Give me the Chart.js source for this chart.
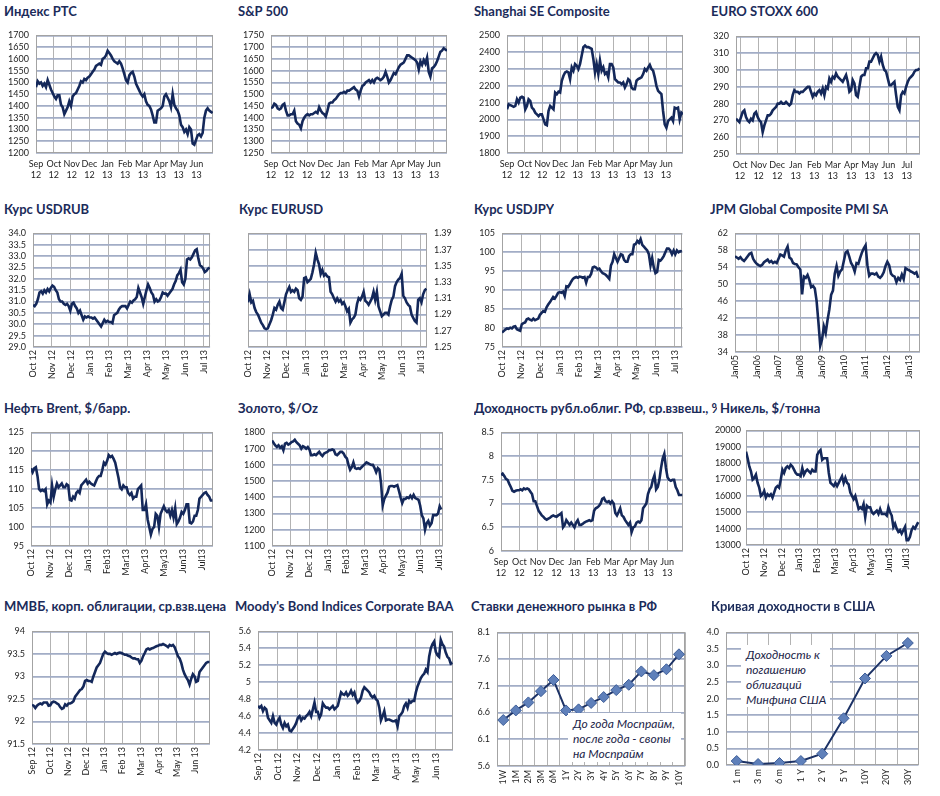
<!DOCTYPE html>
<html><head><meta charset="utf-8">
<script src="https://cdn.jsdelivr.net/npm/chart.js@4.4.0/dist/chart.umd.min.js"></script>
<style>
body{margin:0;background:#fff;}
#wrap{position:relative;width:940px;height:796px;overflow:hidden;background:#fff;font-family:Lato,'Open Sans',sans-serif;}
.t{position:absolute;font-weight:bold;font-size:13px;color:#1b2b5a;white-space:nowrap;line-height:16px;overflow:hidden;}
canvas{position:absolute;}
.note{position:absolute;background:#fff;font-style:italic;font-size:12px;color:#1b2448;line-height:15px;z-index:5;white-space:nowrap;}
</style></head><body><div id="wrap"></div>
<script>
// ---------------- DATA ----------------
const monthsSepJun = ['Sep 12','Oct 12','Nov 12','Dec 12','Jan 13','Feb 13','Mar 13','Apr 13','May 13','Jun 13'];
const monthsOctJul = ['Oct 12','Nov 12','Dec 12','Jan 13','Feb 13','Mar 13','Apr 13','May 13','Jun 13','Jul 13'];
const monthsOctJulB = ['Oct 12','Nov 12','Dec 12','Jan13','Feb13','Mar13','Apr13','May13','Jun13','Jul13'];
const yearsPmi = ['Jan05','Jan06','Jan07','Jan08','Jan09','Jan10','Jan11','Jan12','Jan13'];

const rtsValues = [1480,1505,1495,1500,1485,1495,1480,1510,1490,1470,1455,1440,1430,1445,1445,1405,1395,1365,1380,1395,1420,1400,1440,1450,1455,1470,1485,1505,1500,1515,1510,1520,1525,1535,1545,1555,1570,1575,1580,1575,1600,1605,1615,1635,1625,1615,1600,1590,1585,1580,1590,1580,1560,1535,1510,1500,1530,1540,1545,1525,1495,1480,1465,1450,1440,1450,1420,1405,1400,1385,1360,1330,1330,1380,1385,1390,1400,1440,1450,1435,1420,1395,1450,1405,1390,1380,1360,1320,1310,1290,1300,1280,1310,1300,1240,1235,1255,1275,1280,1270,1285,1350,1380,1390,1380,1375,1370];
const spxValues = [1440,1445,1460,1455,1440,1435,1440,1455,1460,1430,1410,1410,1415,1415,1430,1385,1375,1370,1355,1385,1400,1410,1415,1410,1415,1415,1420,1425,1420,1445,1430,1420,1415,1405,1430,1460,1465,1465,1475,1480,1490,1500,1505,1505,1510,1505,1515,1515,1520,1525,1530,1520,1515,1490,1515,1535,1540,1550,1555,1560,1550,1560,1550,1565,1570,1565,1560,1565,1575,1595,1575,1550,1560,1575,1590,1585,1600,1615,1625,1630,1635,1650,1665,1665,1660,1655,1650,1645,1635,1605,1640,1625,1645,1630,1655,1595,1575,1610,1615,1625,1640,1660,1680,1685,1695,1690,1685];
const shanghaiValues = [2060,2090,2085,2080,2075,2080,2120,2100,2130,2135,2130,2060,2080,2120,2110,2070,2060,2040,2030,2020,2030,2030,2000,1970,1965,2050,2080,2070,2060,2160,2150,2165,2160,2230,2260,2280,2285,2280,2240,2310,2290,2330,2320,2300,2330,2380,2430,2440,2430,2430,2425,2420,2360,2280,2330,2270,2350,2290,2310,2270,2280,2250,2330,2330,2310,2240,2230,2220,2220,2210,2220,2190,2210,2240,2230,2190,2180,2180,2230,2240,2245,2250,2270,2300,2290,2310,2325,2300,2290,2250,2200,2170,2160,2150,2050,1970,1950,1990,2000,2010,1990,2070,2065,2070,2000,2040,2030];
const stoxxValues = [271,270,269,272,275,276,272,270,269,271,270,274,275,272,270,269,263,267,270,273,273,274,276,277,278,280,280,281,280,280,281,280,279,280,285,288,287,287,286,287,287,288,289,290,290,287,284,286,285,287,288,286,289,285,290,289,295,293,296,295,298,296,295,294,293,295,297,293,287,288,294,292,285,284,290,296,297,297,301,301,305,305,307,309,310,309,305,308,303,300,299,295,291,291,292,293,285,278,276,285,287,286,290,293,295,296,297,299,300,300,301];
const usdrubValues = [30.85,30.8,30.9,31.1,31.4,31.45,31.35,31.5,31.4,31.55,31.45,31.6,31.7,31.65,31.5,31.4,31.1,31.0,31.0,30.9,30.85,30.9,30.8,30.6,30.9,30.95,30.8,30.7,30.5,30.6,30.4,30.2,30.35,30.3,30.35,30.3,30.3,30.25,30.3,30.2,30.1,30.0,29.9,30.05,30.2,30.1,30.15,30.1,30.1,30.05,30.4,30.45,30.5,30.65,30.75,30.8,30.8,30.8,30.7,30.85,31.0,30.95,31.05,31.1,31.2,31.6,31.4,31.2,30.9,31.2,31.5,31.75,31.6,31.4,31.3,31.0,31.1,31.0,31.05,31.2,31.4,31.35,31.35,31.25,31.35,31.45,31.55,31.75,31.9,32.15,32.25,32.4,31.85,31.75,32.0,32.85,32.9,32.85,32.95,33.1,33.25,33.3,32.9,32.6,32.55,32.45,32.3,32.35,32.45,32.5];
const eurusdValues = [1.305,1.315,1.305,1.307,1.298,1.293,1.290,1.285,1.280,1.277,1.273,1.272,1.273,1.278,1.283,1.290,1.298,1.296,1.302,1.306,1.298,1.296,1.305,1.315,1.320,1.324,1.318,1.320,1.318,1.322,1.320,1.310,1.308,1.312,1.335,1.336,1.330,1.332,1.334,1.342,1.352,1.366,1.358,1.352,1.340,1.345,1.338,1.340,1.337,1.336,1.318,1.315,1.310,1.306,1.310,1.306,1.308,1.303,1.305,1.300,1.294,1.297,1.280,1.284,1.286,1.290,1.303,1.310,1.308,1.312,1.318,1.307,1.305,1.302,1.306,1.310,1.318,1.308,1.318,1.300,1.294,1.288,1.290,1.292,1.292,1.290,1.300,1.308,1.312,1.325,1.330,1.333,1.335,1.340,1.313,1.310,1.305,1.302,1.300,1.290,1.286,1.282,1.280,1.308,1.310,1.305,1.315,1.320,1.322];
const usdjpyValues = [78.8,79.2,79.6,79.9,79.8,80.1,79.9,80.4,80.5,79.7,79.5,79.3,81.0,81.3,81.5,82.3,82.5,82.2,82.0,82.5,82.1,82.3,82.5,83.5,84.0,84.5,84.3,85.5,86.2,86.8,87.5,88.2,87.8,88.5,89.3,89.5,89.3,89.6,88.5,91.0,90.8,91.5,92.3,93.0,93.3,93.5,93.3,93.6,93.5,93.3,93.5,92.0,93.5,93.5,94.3,96.0,96.2,96.0,95.5,95.7,95.0,94.5,94.3,94.0,93.5,93.0,96.5,97.5,99.5,98.5,97.5,98.5,99.5,99.3,98.0,97.5,97.5,99.0,99.5,99.5,102.0,102.2,103.0,102.5,103.5,102.0,101.5,101.0,100.5,99.5,96.5,98.5,96.0,94.5,94.8,98.0,97.8,98.3,99.0,100.0,101.0,101.0,100.5,99.5,100.5,99.5,100.5,100.0,100.3,100.2];
const pmiValues = [56.6,56.3,56.0,56.4,55.8,55.5,56.0,56.6,57.2,57.4,56.0,55.3,54.8,54.5,54.3,54.6,55.2,55.5,55.8,55.2,55.5,55.0,55.3,55.0,56.0,57.0,56.8,56.5,58.0,58.9,56.3,56.0,55.0,54.8,54.7,54.0,53.5,47.6,51.8,51.5,52.2,51.0,49.3,49.6,49.0,46.0,41.0,35.5,37.0,40.0,38.5,41.5,44.0,47.5,48.5,52.5,54.3,52.0,53.0,53.5,55.5,57.5,57.8,56.5,55.0,54.3,53.0,55.0,54.8,56.2,57.5,58.5,59.2,54.5,52.0,52.5,52.5,52.3,52.6,51.8,51.5,52.0,52.8,54.3,55.3,54.5,52.5,52.0,51.8,50.5,51.5,51.0,52.3,51.2,53.8,53.5,53.3,53.0,52.8,52.5,52.8,51.5];
const brentValues = [115.5,114.5,115.5,115.8,113.5,110,109.5,109.8,109.5,110,106,107,106.5,111,108,110,111.5,110.5,111,111.5,110.5,110.5,111.3,111,107.2,107,108,107.5,109,109.5,109,111,111.5,112,112.5,111.5,112,111.5,111.2,111,112,113,113.5,113.5,115,117,116.5,117.5,119,118.5,118.8,118,117,115,113,110.5,110,111,110.5,110.5,109,108.5,109,107.5,108,108,110,110.5,111,104.5,104.5,106,102,100,98,99.5,100,103.5,103,100,103.5,104.5,105.5,104.5,104,104.5,103,104.5,102.5,105,100.8,101.5,102.5,104,103.5,104.5,106,106,101.2,101,101.5,103,103,104.5,107.5,108,108.5,109,109.2,108.5,108,107,107];
const goldValues = [1750,1735,1720,1710,1720,1705,1715,1690,1730,1735,1725,1730,1740,1745,1755,1740,1730,1720,1700,1715,1710,1700,1710,1695,1660,1660,1665,1660,1670,1680,1665,1655,1670,1675,1680,1690,1690,1695,1690,1665,1660,1670,1680,1680,1670,1650,1640,1600,1570,1585,1615,1580,1575,1580,1575,1585,1595,1605,1615,1610,1605,1600,1600,1580,1555,1580,1570,1485,1350,1390,1410,1430,1465,1470,1470,1465,1470,1475,1440,1400,1365,1390,1390,1400,1395,1410,1395,1415,1395,1390,1385,1350,1290,1270,1200,1240,1255,1225,1240,1290,1290,1290,1300,1345,1325];
const ofzValues = [7.6,7.63,7.58,7.52,7.5,7.42,7.35,7.27,7.25,7.27,7.28,7.28,7.3,7.28,7.32,7.3,7.32,7.3,7.25,7.2,7.05,7.05,6.95,6.85,6.8,6.75,6.72,6.68,6.66,6.68,6.7,6.73,6.75,6.73,6.72,6.75,6.77,6.8,6.5,6.55,6.65,6.6,6.55,6.6,6.55,6.5,6.6,6.65,6.55,6.55,6.57,6.6,6.62,6.63,6.65,6.63,6.65,6.85,6.9,6.92,6.95,7.0,7.1,7.12,7.05,7.03,7.05,7.0,7.05,7.0,6.8,6.75,6.82,6.9,6.75,6.72,6.65,6.6,6.55,6.6,6.4,6.5,6.52,6.6,6.62,6.6,6.65,6.9,6.95,7.0,7.2,7.3,7.35,7.5,7.6,7.3,7.35,7.5,7.75,7.95,8.05,7.75,7.55,7.5,7.48,7.5,7.5,7.35,7.28,7.18,7.18,7.18];
const nickelValues = [18700,18300,17800,17500,17000,17100,17300,16800,16500,16000,16100,16300,15900,16100,16000,16100,15900,16200,16500,16600,16500,17000,17600,17400,17700,17800,17700,17900,17800,17600,17400,17300,17300,17200,17700,17300,17500,17600,17500,17400,17600,17500,17500,18500,18700,18800,18200,18300,18300,18300,17400,16800,16700,16600,16800,16600,16800,17000,17200,16800,17100,16800,16700,16200,16000,15800,16000,15600,15200,15300,15200,15500,14700,15400,15300,15300,15000,14900,15000,15100,14900,15200,14900,14900,14900,14800,15300,15000,14800,14100,14300,14000,13800,13900,13700,13900,14100,13300,13300,13500,13900,14100,14000,14200,14400];
const micexBondValues = [92.37,92.35,92.3,92.35,92.38,92.4,92.38,92.42,92.42,92.42,92.35,92.36,92.42,92.44,92.43,92.4,92.38,92.32,92.28,92.3,92.38,92.35,92.4,92.4,92.42,92.45,92.55,92.6,92.65,92.7,92.72,92.78,92.9,92.92,92.9,92.9,92.88,93.0,93.1,93.2,93.25,93.3,93.4,93.5,93.55,93.52,93.5,93.5,93.48,93.5,93.52,93.5,93.52,93.53,93.52,93.5,93.48,93.48,93.46,93.45,93.42,93.4,93.4,93.38,93.38,93.3,93.35,93.45,93.52,93.6,93.62,93.6,93.62,93.63,93.65,93.67,93.68,93.7,93.7,93.72,93.7,93.68,93.65,93.7,93.68,93.7,93.65,93.55,93.45,93.4,93.3,93.15,93.05,92.98,92.92,92.82,92.95,93.05,93.0,92.88,92.9,93.1,93.15,93.2,93.25,93.3,93.32,93.32];
const baaValues = [4.72,4.7,4.72,4.66,4.7,4.68,4.58,4.55,4.52,4.6,4.52,4.5,4.55,4.58,4.5,4.46,4.52,4.48,4.5,4.43,4.42,4.45,4.48,4.52,4.58,4.6,4.55,4.58,4.57,4.6,4.62,4.65,4.6,4.68,4.76,4.65,4.65,4.58,4.62,4.75,4.72,4.7,4.7,4.68,4.7,4.72,4.68,4.7,4.72,4.8,4.88,4.86,4.85,4.88,4.84,4.86,4.9,4.85,4.88,4.8,4.76,4.78,4.82,4.9,4.94,4.92,4.9,4.88,4.84,4.82,4.84,4.8,4.78,4.7,4.55,4.6,4.66,4.55,4.56,4.56,4.55,4.54,4.54,4.55,4.48,4.6,4.62,4.65,4.72,4.75,4.7,4.78,4.76,4.78,4.78,4.88,4.95,5.0,5.05,5.08,5.1,5.15,5.12,5.3,5.4,5.45,5.48,5.36,5.32,5.3,5.5,5.45,5.42,5.35,5.3,5.28,5.22,5.23];

const ruTenors = ['1W','1M','2M','3M','6M','1Y','2Y','3Y','4Y','5Y','6Y','7Y','8Y','9Y','10Y'];
const ruRates = [6.46,6.64,6.79,7.0,7.21,6.64,6.66,6.78,6.89,7.02,7.12,7.37,7.30,7.41,7.69];
const usTenors = ['1 m','3 m','6 m','1 Y','2 Y','5 Y','10Y','20Y','30Y'];
const usYields = [0.12,0.03,0.06,0.12,0.34,1.41,2.61,3.29,3.68];

// ---------------- STYLE / LAYOUT ----------------
const NAVY = '#14285a', GRID_Y = '#a2adc6', GRID_X = '#b3b3b3', FRAME = '#a3a3a3', TICK = '#1e1e1e';
const FONT = {size: 9, family: 'Lato'};
const wrap = document.getElementById('wrap');

function series(values, x0, x1) {
  const n = values.length;
  return values.map((v, i) => ({x: x0 + (x1 - x0) * i / (n - 1), y: v}));
}
const trimNum = d => v => String(+v.toFixed(d));
const fixed = d => v => v.toFixed(d);

const frame = {
  id: 'frame',
  beforeDatasetsDraw(c) {
    const a = c.chartArea, ctx = c.ctx;
    ctx.save(); ctx.strokeStyle = FRAME; ctx.lineWidth = 1;
    ctx.strokeRect(Math.round(a.left) + 0.5, Math.round(a.top) + 0.5, Math.round(a.width) - 1, Math.round(a.height) - 1);
    ctx.restore();
  }
};

function title(text, x, y, w) {
  const d = document.createElement('div');
  d.className = 't'; d.textContent = text;
  d.style.left = x + 'px'; d.style.top = y + 'px';
  if (w) d.style.width = w + 'px';
  wrap.appendChild(d);
}
function note(lines, x, y, w, h, px) {
  const d = document.createElement('div');
  d.className = 'note';
  d.style.left = x + 'px'; d.style.top = y + 'px'; d.style.width = w + 'px'; d.style.height = h + 'px';
  d.style.padding = px;
  d.innerHTML = lines.join('<br>');
  wrap.appendChild(d);
}

function build(p) {
  const [l, t, r, b] = p.plot;
  const right = !!p.right;
  const yw = p.yw || 36;
  const xh = p.xh || (p.two ? 34 : 44);
  const padT = 8, padR = right ? 0 : 6, padL = right ? 10 : 0;
  const cl = right ? l - padL : l - yw;
  const w = (r - l) + yw + padR + padL;
  const h = (b - t) + padT + xh;
  const cv = document.createElement('canvas');
  cv.width = w; cv.height = h;
  cv.style.left = cl + 'px'; cv.style.top = (t - padT) + 'px';
  cv.style.width = w + 'px'; cv.style.height = h + 'px';
  wrap.appendChild(cv);

  const isCat = !!p.categories;
  const xScale = isCat ? {
    type: 'category', offset: true,
    grid: {color: GRID_X, lineWidth: 1, drawTicks: false, offset: true},
    border: {display: false},
    ticks: {autoSkip: false, minRotation: 90, maxRotation: 90, padding: 4, color: TICK, font: FONT},
    afterFit: s => { s.height = xh; }
  } : {
    type: 'linear', min: p.xmin, max: p.xmax,
    grid: {color: GRID_X, lineWidth: 1, drawTicks: false},
    border: {display: false},
    ticks: {
      stepSize: p.step || 1, includeBounds: false, autoSkip: false,
      minRotation: p.two ? 0 : 90, maxRotation: p.two ? 0 : 90,
      padding: p.two ? 6 : 3, color: TICK, font: FONT,
      callback: v => {
        const s = p.labels[Math.round(v / (p.step || 1))] || '';
        return p.two ? s.split(' ') : s;
      }
    },
    afterFit: s => { s.height = xh; }
  };
  const ds = isCat ? {
    data: p.values, borderColor: '#1c3266', borderWidth: 2,
    pointStyle: 'rectRot', pointRadius: 5.5, pointBackgroundColor: '#5f80ba', pointBorderColor: '#3d5d98', pointBorderWidth: 1,
    tension: 0
  } : {
    data: series(p.values, p.x0, p.x1), borderColor: NAVY, borderWidth: 2.6,
    pointRadius: 0, tension: 0, fill: false
  };
  new Chart(cv, {
    type: 'line',
    data: {labels: isCat ? p.categories : undefined, datasets: [ds]},
    options: {
      responsive: false, animation: false, devicePixelRatio: window.devicePixelRatio || 1,
      layout: {padding: {top: padT, right: padR, left: padL, bottom: 0}},
      plugins: {legend: {display: false}, tooltip: {enabled: false}},
      scales: {
        x: xScale,
        y: {
          position: right ? 'right' : 'left',
          min: p.y[0], max: p.y[1],
          grid: {color: GRID_Y, lineWidth: 1.7, drawTicks: false},
          border: {display: false},
          ticks: {stepSize: p.y[2], autoSkip: false, padding: p.ypad || 7, color: TICK, font: FONT, callback: p.fmt || (v => String(v))},
          afterFit: s => { s.width = yw; }
        }
      }
    },
    plugins: [frame]
  });
}

// ---------------- PANELS ----------------
const panels = [
  {title: 'Индекс РТС', tx: 4, ty: 3, plot: [36, 31, 213, 153], values: rtsValues, x0: 0, x1: 9.91, xmin: 0, xmax: 9.93, labels: monthsSepJun, two: true, y: [1200, 1700, 50]},
  {title: 'S&P 500', tx: 238, ty: 3, plot: [271, 31, 447, 153], values: spxValues, x0: 0, x1: 9.72, xmin: 0, xmax: 9.72, labels: monthsSepJun, two: true, y: [1250, 1750, 50]},
  {title: 'Shanghai SE Composite', tx: 474, ty: 3, plot: [507, 31, 683, 153], values: shanghaiValues, x0: 0, x1: 9.96, xmin: 0, xmax: 9.96, labels: monthsSepJun, two: true, y: [1800, 2500, 100]},
  {title: 'EURO STOXX 600', tx: 711, ty: 3, plot: [736, 32, 920, 154], values: stoxxValues, x0: -0.22, x1: 9.68, xmin: -0.22, xmax: 9.71, labels: monthsOctJul, two: true, y: [250, 320, 10]},

  {title: 'Курс USDRUB', tx: 4, ty: 201, plot: [33, 229, 212, 347], values: usdrubValues, x0: 0, x1: 9.3, xmin: 0, xmax: 9.32, labels: monthsOctJul, y: [29, 34, 0.5], fmt: fixed(1)},
  {title: 'Курс EURUSD', tx: 239, ty: 201, plot: [248, 229, 427, 347], right: true, yw: 30, values: eurusdValues, x0: 0, x1: 9.29, xmin: 0, xmax: 9.32, labels: monthsOctJul, y: [1.25, 1.39, 0.02], fmt: fixed(2)},
  {title: 'Курс USDJPY', tx: 474, ty: 201, plot: [502, 229, 683, 347], values: usdjpyValues, x0: 0, x1: 9.36, xmin: 0, xmax: 9.39, labels: monthsOctJul, y: [75, 105, 5]},
  {title: 'JPM Global Composite PMI SA', tx: 710, ty: 201, plot: [735, 229, 920, 352], values: pmiValues, x0: 0, x1: 101, xmin: 0, xmax: 102, step: 12, labels: yearsPmi, y: [34, 62, 4]},

  {title: 'Нефть Brent, $/барр.', tx: 4, ty: 400, plot: [31, 428, 213, 546], values: brentValues, x0: 0, x1: 9.53, xmin: 0, xmax: 9.56, labels: monthsOctJulB, y: [95, 125, 5]},
  {title: 'Золото, $/Oz', tx: 238, ty: 400, plot: [272, 428, 447, 546], values: goldValues, x0: 0, x1: 9.12, xmin: 0, xmax: 9.2, labels: monthsOctJulB, y: [1100, 1800, 100]},
  {title: 'Доходность рубл.облиг. РФ, ср.взвеш., %', tx: 474, ty: 400, tw: 243, plot: [501, 428, 683, 551], values: ofzValues, x0: 0, x1: 9.82, xmin: 0, xmax: 9.86, labels: monthsSepJun, two: true, y: [6, 8.5, 0.5], fmt: trimNum(1)},
  {title: 'Никель, $/тонна', tx: 720, ty: 400, plot: [746, 428, 920, 545], values: nickelValues, x0: 0, x1: 9.66, xmin: 0, xmax: 9.76, labels: monthsOctJulB, y: [13000, 20000, 1000], ypad: 5},

  {title: 'ММВБ, корп. облигации, ср.взв.цена', tx: 4, ty: 598, plot: [32, 627, 210, 744], values: micexBondValues, x0: 0, x1: 9.8, xmin: 0, xmax: 9.83, labels: monthsSepJun, y: [91.5, 94, 0.5], fmt: trimNum(1)},
  {title: "Moody's Bond Indices Corporate BAA", tx: 235, ty: 598, plot: [258, 627, 453, 750], values: baaValues, x0: 0, x1: 9.85, xmin: 0, xmax: 9.88, labels: monthsSepJun, y: [4.2, 5.6, 0.2], fmt: trimNum(1)},
  {title: 'Ставки денежного рынка в РФ', tx: 471, ty: 598, plot: [497, 628, 688, 766], categories: ruTenors, values: ruRates, xh: 30, y: [5.6, 8.1, 0.5], fmt: fixed(1)},
  {title: 'Кривая доходности в США', tx: 711, ty: 598, plot: [726, 628, 919, 765], categories: usTenors, values: usYields, xh: 30, y: [0, 4, 0.5], fmt: fixed(1)}
];

panels.forEach(build);
panels.forEach(p => title(p.title, p.tx, p.ty, p.tw));

note(['До года Моспрайм,', 'после года - свопы', 'на Моспрайм'], 568, 713, 108, 46, '3px 0 0 5px');
note(['Доходность к', 'погашению', 'облигаций', 'Минфина США'], 741, 645, 84, 60, '2px 0 0 5px');
</script></body></html>
